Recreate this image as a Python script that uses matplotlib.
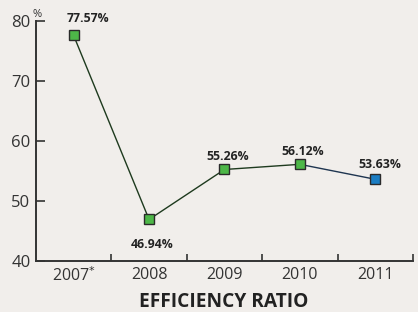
import matplotlib
matplotlib.use("Agg")
import matplotlib.pyplot as plt

years = ["2007$^{*}$", "2008", "2009", "2010", "2011"]
values = [77.57, 46.94, 55.26, 56.12, 53.63]
labels = ["77.57%", "46.94%", "55.26%", "56.12%", "53.63%"]
colors = ["#4db748", "#4db748", "#4db748", "#4db748", "#1b7dc3"]
label_offsets = [(10, 12), (2, -18), (2, 9.5), (2, 9.5), (3.5, 11)]
yticks = [40, 50, 60, 70, 80]

bg = "#f1eeeb"
txt = "#333333"
plt.rcParams['font.family'] = ['Open Sans', 'DejaVu Sans']

fig = plt.figure(figsize=(4.18, 3.12), dpi=100, facecolor=bg)
ax = fig.add_axes([0.086, 0.163, 0.902, 0.77])
ax.set_facecolor(bg)

x = list(range(len(values)))
ax.plot(x[:4], values[:4], color="#1e3a1e", lw=1.0, zorder=2)
ax.plot(x[3:], values[3:], color="#1f3550", lw=1.0, zorder=2)
for xi, v, c in zip(x, values, colors):
    ax.plot(xi, v, marker="s", ms=7, mfc=c, mec="#2a2a2a", mew=1.0, zorder=3)
for xi, v, lab, off in zip(x, values, labels, label_offsets):
    ax.annotate(lab, (xi, v), xytext=off, textcoords="offset points",
                ha="center", va="center", fontsize=8.8, fontweight="bold", color="#222222")

ax.set_xlim(-0.5, 4.5)
ax.set_ylim(40, 80)
ax.set_yticks(yticks)
ax.set_yticklabels([str(t) for t in yticks], fontsize=12, color=txt)
ax.set_xticks([0.5, 1.5, 2.5, 3.5, 4.5])
ax.set_xticklabels([])
ax.set_xticks(x, minor=True)
ax.set_xticklabels(years, minor=True, fontsize=11.5, color=txt)
ax.tick_params(axis="x", which="minor", length=0, pad=4)
ax.tick_params(axis="x", which="major", direction="in", length=5, width=1.2, color="#333333")
ax.tick_params(axis="y", direction="in", length=6.5, width=1.2, color="#333333", pad=4)
for s in ["top", "right"]:
    ax.spines[s].set_visible(False)
for s in ["left", "bottom"]:
    ax.spines[s].set_color("#333333")
    ax.spines[s].set_linewidth(1.4)

fig.text(0.089, 0.972, "%", fontsize=8, color=txt, ha="center", va="top")
fig.text(0.536, 0.032, "EFFICIENCY RATIO", fontsize=13.8, fontweight="bold", color="#222222", ha="center", va="center")

fig.savefig("out.png", dpi=100, facecolor=bg)
